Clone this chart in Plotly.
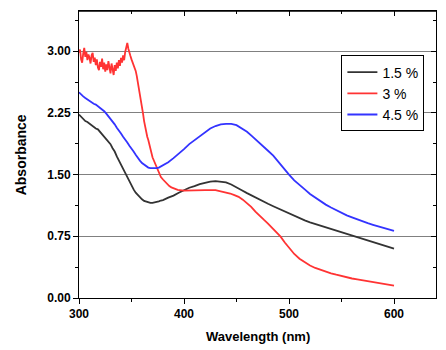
import plotly.graph_objects as go

# ---- data ----
wl_black = [300, 302, 304, 306, 308, 310, 312, 314, 316, 318, 320, 322, 324, 326, 328, 330,
            332, 334, 336, 338, 340, 342, 344, 346, 348, 350, 352, 354, 356, 358, 360, 362,
            364, 366, 368, 370, 372, 374, 376, 378, 380, 385, 390, 395, 400, 405, 410, 415,
            420, 425, 430, 435, 440, 445, 450, 455, 460, 465, 470, 475, 480, 485, 490, 495,
            500, 505, 510, 515, 520, 525, 530, 535, 540, 545, 550, 555, 560, 565, 570, 575,
            580, 585, 590, 595, 600]
abs_black = [2.23, 2.20, 2.18, 2.15, 2.14, 2.12, 2.10, 2.07, 2.06, 2.05, 2.02, 1.99, 1.96, 1.94, 1.91, 1.87,
             1.82, 1.78, 1.72, 1.67, 1.62, 1.57, 1.51, 1.47, 1.41, 1.36, 1.32, 1.28, 1.25, 1.22, 1.20, 1.18,
             1.17, 1.16, 1.155, 1.155, 1.16, 1.165, 1.175, 1.185, 1.19, 1.22, 1.245, 1.28, 1.31, 1.34, 1.36, 1.385,
             1.40, 1.415, 1.42, 1.415, 1.405, 1.38, 1.35, 1.31, 1.275, 1.24, 1.205, 1.175, 1.145, 1.115, 1.085, 1.055,
             1.025, 0.995, 0.967, 0.943, 0.92, 0.90, 0.88, 0.86, 0.84, 0.822, 0.805, 0.786, 0.766, 0.745, 0.723, 0.70,
             0.68, 0.66, 0.64, 0.62, 0.60]

wl_red = list(range(300, 371)) + [372, 374, 376, 378, 380, 382, 384, 386, 388, 390, 394, 400, 410, 420,
                                  430, 438, 444, 448, 452, 456, 460, 464, 468, 472, 476, 480, 484, 488,
                                  492, 496, 500, 505, 510, 515, 520, 525, 530, 535, 540, 545, 550, 555,
                                  560, 565, 570, 575, 580, 585, 590, 595, 600]
abs_red = [2.98, 3.02, 2.90, 2.86, 2.97, 3.04, 2.93, 2.99, 2.89, 2.96, 2.92, 2.85, 2.95, 2.98, 2.87, 2.92,
           2.83, 2.90, 2.80, 2.77, 2.87, 2.81, 2.91, 2.78, 2.86, 2.75, 2.84, 2.77, 2.88, 2.81, 2.73, 2.85,
           2.78, 2.71, 2.83, 2.76, 2.86, 2.79, 2.89, 2.82, 2.92, 2.86, 2.95, 2.89, 2.99, 3.04, 3.10, 3.03,
           2.96, 2.94, 2.90,
           2.87, 2.84, 2.81, 2.76, 2.70, 2.63, 2.55, 2.47, 2.39, 2.31, 2.24, 2.15, 2.07, 2.01, 1.96, 1.92,
           1.86, 1.80, 1.75, 1.71,
           1.65, 1.59, 1.53, 1.47, 1.44, 1.41, 1.38, 1.36, 1.345, 1.335, 1.315, 1.305, 1.31, 1.31,
           1.31, 1.29, 1.27, 1.25, 1.23, 1.195, 1.155, 1.108, 1.05, 0.995, 0.952, 0.905, 0.855, 0.805,
           0.745, 0.675, 0.607, 0.535, 0.477, 0.432, 0.395, 0.365, 0.340, 0.318, 0.300, 0.283, 0.265, 0.250,
           0.237, 0.226, 0.215, 0.205, 0.195, 0.185, 0.172, 0.162, 0.150]

wl_blue = [300, 302, 304, 306, 308, 310, 312, 314, 316, 318, 320, 322, 324, 326, 328, 330,
           332, 334, 336, 338, 340, 342, 344, 346, 348, 350, 352, 354, 356, 358, 360, 362,
           364, 366, 368, 370, 372, 374, 376, 378, 380, 385, 390, 395, 400, 405, 410, 415,
           420, 425, 430, 435, 440, 445, 450, 455, 460, 465, 470, 475, 480, 485, 490, 495,
           500, 505, 510, 515, 520, 525, 530, 535, 540, 545, 550, 555, 560, 565, 570, 575,
           580, 585, 590, 595, 600]
abs_blue = [2.50, 2.47, 2.45, 2.43, 2.41, 2.40, 2.38, 2.36, 2.35, 2.33, 2.32, 2.30, 2.27, 2.24, 2.21, 2.18,
            2.15, 2.11, 2.07, 2.04, 2.00, 1.96, 1.93, 1.89, 1.85, 1.82, 1.78, 1.74, 1.70, 1.67, 1.64, 1.62,
            1.60, 1.585, 1.578, 1.575, 1.575, 1.578, 1.585, 1.60, 1.615, 1.65, 1.70, 1.75, 1.81, 1.87, 1.92, 1.97,
            2.02, 2.06, 2.09, 2.11, 2.117, 2.115, 2.10, 2.065, 2.02, 1.965, 1.91, 1.855, 1.79, 1.73, 1.65, 1.58,
            1.50, 1.43, 1.37, 1.32, 1.265, 1.22, 1.175, 1.135, 1.10, 1.065, 1.035, 1.005, 0.98, 0.955, 0.93, 0.91,
            0.89, 0.87, 0.85, 0.83, 0.815]

series_names = ["1.5 %", "3 %", "4.5 %"]
series_colors = ["#333333", "#ff3333", "#3333ff"]

x_ticks = [300, 400, 500, 600]
x_minor = [350, 450, 550]
y_ticks = [0.0, 0.75, 1.5, 2.25, 3.0]
y_tick_labels = ["0.00", "0.75", "1.50", "2.25", "3.00"]
y_minor = [0.375, 1.125, 1.875, 2.625, 3.375]
y_range = [0, 3.488]

FONT = "Arial, 'Liberation Sans', sans-serif"

fig = go.Figure()
for wl, ab, name, col in zip([wl_black, wl_red, wl_blue], [abs_black, abs_red, abs_blue],
                             series_names, series_colors):
    fig.add_trace(go.Scatter(x=wl, y=ab, mode="lines", name=name,
                             line=dict(color=col, width=1.8)))

# invisible copy on the mirror axes so the top/right inside ticks are drawn
fig.add_trace(go.Scatter(x=wl_black, y=abs_black, mode="lines", xaxis="x2", yaxis="y2",
                         line=dict(width=0), opacity=0, showlegend=False, hoverinfo="skip"))

fig.update_layout(
    width=446, height=350,
    margin=dict(l=79, r=10, t=11, b=52),
    paper_bgcolor="white", plot_bgcolor="white",
    font=dict(family=FONT, color="black"),
    showlegend=True,
    legend=dict(x=0.735, y=0.845, xanchor="left", yanchor="top",
                bgcolor="white", bordercolor="black", borderwidth=1,
                font=dict(family=FONT, size=14, color="black"),
                tracegroupgap=0, itemwidth=30),
    xaxis=dict(range=[300, 640], tickvals=x_ticks, ticks="outside", ticklen=5,
               tickcolor="black", showline=True, mirror=True, linecolor="black", linewidth=1,
               showgrid=False, zeroline=False,
               tickfont=dict(family=FONT, size=12, color="black", weight="bold"),
               minor=dict(tickvals=x_minor, ticks="outside", ticklen=3,
                          tickcolor="black", showgrid=False)),
    yaxis=dict(range=y_range, tickvals=y_ticks, ticktext=y_tick_labels, ticks="outside",
               ticklen=5, tickcolor="black", showline=True, mirror=True, linecolor="black", linewidth=1,
               showgrid=True, gridcolor="#808080", gridwidth=1, zeroline=False,
               tickfont=dict(family=FONT, size=12, color="black", weight="bold"),
               minor=dict(tickvals=y_minor, ticks="outside",
                          ticklen=3, tickcolor="black", showgrid=False)),
    xaxis2=dict(range=[300, 640], overlaying="x", side="top", anchor="y2",
                tickvals=x_ticks, ticks="inside", ticklen=5, tickcolor="black",
                showticklabels=False, showline=False,
                showgrid=False, zeroline=False,
                minor=dict(tickvals=x_minor, ticks="inside", ticklen=3,
                           tickcolor="black", showgrid=False)),
    yaxis2=dict(range=y_range, overlaying="y", side="right", anchor="x2",
                tickvals=y_ticks, ticks="inside", ticklen=5, tickcolor="black",
                showticklabels=False, showline=False,
                showgrid=False, zeroline=False,
                minor=dict(tickvals=y_minor, ticks="inside",
                           ticklen=3, tickcolor="black", showgrid=False)),
    shapes=[dict(type="line", xref="paper", yref="paper", x0=0, y0=1, x1=1, y1=1,
                 line=dict(color="black", width=1.5), layer="above")],
    annotations=[
        dict(text="<b>Wavelength (nm)</b>", xref="paper", yref="paper", x=0.5, y=-0.135,
             xanchor="center", yanchor="middle", showarrow=False,
             font=dict(family=FONT, size=13, color="black")),
        dict(text="<b>Absorbance</b>", xref="paper", yref="paper", x=-0.163, y=0.5,
             xanchor="center", yanchor="middle", showarrow=False, textangle=-90,
             font=dict(family=FONT, size=14, color="black")),
    ],
)

fig.write_html("out.html", config={"displayModeBar": False},
               post_script="document.body.style.margin='0';")
